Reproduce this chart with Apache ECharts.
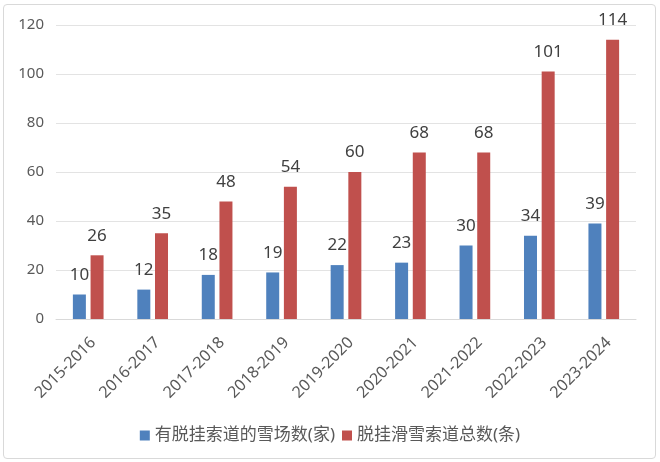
<!DOCTYPE html>
<html><head><meta charset="utf-8">
<script src="https://cdn.jsdelivr.net/npm/echarts@6/dist/echarts.min.js"></script>
<style>html,body{margin:0;padding:0;background:#fff}
#wrap{position:absolute;left:3px;top:4px;width:653px;height:455px;border:1.5px solid #d9d9d9;border-radius:4px;box-sizing:border-box}
#c{position:absolute;left:0;top:0;width:660px;height:462px}</style>
</head><body>
<div id="wrap"></div>
<div id="c"></div>
<script>
const categories = ['2015-2016','2016-2017','2017-2018','2018-2019','2019-2020','2020-2021','2021-2022','2022-2023','2023-2024'];
const resorts = [10,12,18,19,22,23,30,34,39];
const trails = [26,35,48,54,60,68,68,101,114];
const seriesNames = ['有脱挂索道的雪场数(家)','脱挂滑雪索道总数(条)'];
const yTicks = {min:0,max:120,interval:20};

const font = '"Noto Sans","Noto Sans CJK SC",sans-serif';
const chart = echarts.init(document.getElementById('c'));
chart.setOption({
  animation:false,
  textStyle:{fontFamily:font},
  grid:{left:56,right:24,top:25,bottom:143,containLabel:false},
  legend:{top:422,left:'center',itemWidth:10,itemHeight:10,itemGap:7,
    textStyle:{fontSize:17,color:'#595959',fontFamily:font},
    data:seriesNames.map(n=>({name:n,icon:'rect'}))},
  xAxis:{type:'category',data:categories,
    axisLine:{lineStyle:{color:'#d9d9d9'}},axisTick:{show:false},
    axisLabel:{rotate:45,fontSize:16,color:'#595959',interval:0,margin:26,padding:[0,-7,0,0]}},
  yAxis:{type:'value',min:yTicks.min,max:yTicks.max,interval:yTicks.interval,
    axisLine:{show:false},axisTick:{show:false},
    splitLine:{lineStyle:{color:'#e3e3e3'}},
    axisLabel:{fontSize:15,color:'#595959',margin:12}},
  series:[
    {name:seriesNames[0],type:'bar',data:resorts,barWidth:13,barGap:'36%',
     itemStyle:{color:'#4F81BD'},
     label:{show:true,position:'top',fontSize:17,color:'#404040',distance:11}},
    {name:seriesNames[1],type:'bar',data:trails,barWidth:13,barGap:'36%',
     itemStyle:{color:'#C0504D'},
     label:{show:true,position:'top',fontSize:17,color:'#404040',distance:11}}
  ]
});
</script>
</body></html>
